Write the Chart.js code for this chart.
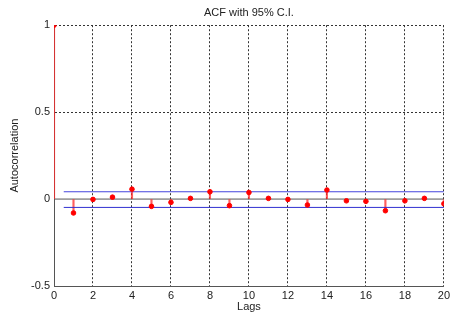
<!DOCTYPE html>
<html>
<head>
<meta charset="utf-8">
<script src="https://cdn.jsdelivr.net/npm/chart.js@4/dist/chart.umd.min.js"></script>
<style>
   html, body { margin: 0; padding: 0; background: #fff; }
   #wrap { width: 453px; height: 321px; }
</style>
</head>
<body>
<div id="wrap"><canvas id="acf"></canvas></div>
<script>
// Valeurs
const lags = [0, 1, 2, 3, 4, 5, 6, 7, 8, 9, 10, 11, 12, 13, 14, 15, 16, 17, 18, 19, 20];
const acfValues = [1, -0.080, -0.002, 0.011, 0.057, -0.042, -0.019, 0.004, 0.042, -0.038,
                   0.038, 0.004, -0.002, -0.034, 0.052, -0.010, -0.013, -0.067, -0.010, 0.004, -0.027];
const upperBound = 0.042;
const lowerBound = -0.048;
const boundLags = [0.5, 20];
const xTicks = [0, 2, 4, 6, 8, 10, 12, 14, 16, 18, 20];
const yTicks = [-0.5, 0, 0.5, 1];

const points = lags.map((lag, i) => ({x: lag, y: acfValues[i]}));
const font = {family: 'Arial, "Liberation Sans", sans-serif', size: 11, weight: 'normal'};

new Chart(document.getElementById('acf'), {
   data: {
      datasets: [
         {
            // Tiges
            type: 'bar',
            data: points,
            backgroundColor: 'rgba(255, 40, 40, 0.75)',
            barThickness: 1.5,
            order: 3
         },
         {
            type: 'line',
            data: boundLags.map(x => ({x: x, y: upperBound})),
            borderColor: '#4545dd',
            borderWidth: 1,
            pointRadius: 0,
            order: 2
         },
         {
            type: 'line',
            data: boundLags.map(x => ({x: x, y: lowerBound})),
            borderColor: '#3030d0',
            borderWidth: 1,
            pointRadius: 0,
            order: 2
         },
         {
            // Ligne zéro
            type: 'line',
            data: [{x: 0, y: 0}, {x: 20, y: 0}],
            borderColor: '#555',
            borderWidth: 1,
            pointRadius: 0,
            order: 4
         },
         {
            type: 'scatter',
            data: points,
            backgroundColor: '#ff0000',
            borderColor: '#ff0000',
            pointRadius: 2.3,
            order: 1
         }
      ]
   },
   options: {
      responsive: true,
      maintainAspectRatio: false,
      animation: false,
      events: [],
      layout: {
         padding: {left: 0, right: 9, top: 0, bottom: 7}
      },
      scales: {
         x: {
            type: 'linear',
            min: 0,
            max: 20,
            offset: false,
            afterBuildTicks: scale => { scale.ticks = xTicks.map(v => ({value: v})); },
            afterFit: scale => { scale.height = 28; },
            ticks: {
               color: '#222',
               font: font,
               padding: 3,
               maxRotation: 0
            },
            grid: {
               offset: false,
               color: '#333',
               lineWidth: 1,
               drawTicks: false
            },
            border: {
               display: true,
               color: '#555',
               width: 1,
               dash: [2, 2]
            },
            title: {
               display: true,
               text: 'Lags',
               color: '#222',
               font: font,
               padding: {top: 0, bottom: 0}
            }
         },
         y: {
            type: 'linear',
            min: -0.5,
            max: 1,
            afterBuildTicks: scale => { scale.ticks = yTicks.map(v => ({value: v})); },
            afterFit: scale => { scale.width = 54; },
            ticks: {
               color: '#222',
               font: font,
               padding: 4,
               callback: v => String(v)
            },
            grid: {
               color: ctx => (ctx.tick && ctx.tick.value === 0) ? 'transparent' : '#333',
               lineWidth: 1,
               drawTicks: false
            },
            border: {
               display: true,
               color: '#555',
               width: 1,
               dash: [2, 2]
            },
            title: {
               display: true,
               text: 'Autocorrelation',
               color: '#222',
               font: font,
               padding: {top: 8, bottom: 0}
            }
         }
      },
      plugins: {
         legend: {display: false},
         tooltip: {enabled: false},
         title: {
            display: true,
            text: 'ACF with 95% C.I.',
            color: '#222',
            font: font,
            fullSize: false,
            padding: {top: 6, bottom: 6}
         }
      }
   }
});
</script>
</body>
</html>
